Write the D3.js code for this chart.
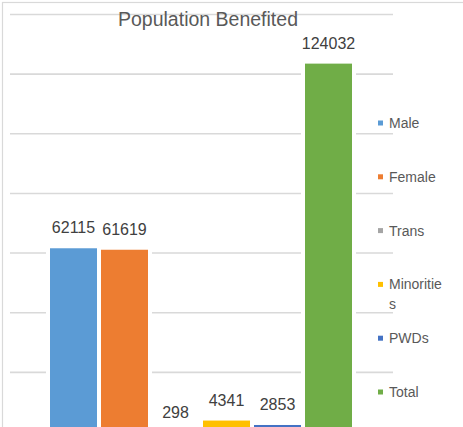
<!DOCTYPE html>
<html>
<head>
<meta charset="utf-8">
<script src="https://cdn.jsdelivr.net/npm/d3@7"></script>
<style>
  html, body { margin: 0; padding: 0; background: #fff; }
  svg { display: block; font-family: "Liberation Sans", Arial, sans-serif; }
</style>
</head>
<body>
<svg id="chart" width="463" height="427"></svg>
<script>
const title = "Population Benefited";
const categories = ["Male", "Female", "Trans", "Minorities", "PWDs", "Total"];
const values = [62115, 61619, 298, 4341, 2853, 124032];
const colors = ["#5B9BD5", "#ED7D31", "#A5A5A5", "#FFC000", "#4472C4", "#70AD47"];
const gridTicks = [0, 20000, 40000, 60000, 80000, 100000, 120000, 140000];

const svg = d3.select("#chart");

// outer chart border (only top/left visible)
svg.append("rect")
  .attr("x", 2.5).attr("y", 2.5)
  .attr("width", 500).attr("height", 500)
  .attr("fill", "none").attr("stroke", "#d9d9d9").attr("stroke-width", 1.2);

const y = d3.scaleLinear().domain([0, 140000]).range([431.5, 14]);
const x = d3.scaleBand().domain(categories).range([48, 354]).padding(0);

// gridlines
const grid = svg.append("g").attr("transform", "translate(393,0)")
  .call(d3.axisLeft(y).tickValues(gridTicks).tickSize(383).tickFormat(""));
grid.select(".domain").remove();
grid.selectAll(".tick line").attr("stroke", "#d9d9d9").attr("stroke-width", 1.6);

// bars
svg.append("g").selectAll("rect")
  .data(values)
  .join("rect")
  .attr("x", (d, i) => x(categories[i]))
  .attr("width", x.bandwidth())
  .attr("y", d => y(d))
  .attr("height", d => y(0) - y(d))
  .attr("fill", (d, i) => colors[i])
  .attr("stroke", "#fff")
  .attr("stroke-width", 4);

// data labels
svg.append("g").selectAll("text")
  .data(values)
  .join("text")
  .attr("x", (d, i) => x(categories[i]) + x.bandwidth() / 2)
  .attr("y", d => y(d) - 13)
  .attr("text-anchor", "middle")
  .attr("font-size", 16)
  .attr("fill", "#404040")
  .text(d => d);

// title
svg.append("text")
  .attr("x", 208).attr("y", 26)
  .attr("text-anchor", "middle")
  .attr("font-size", 19.5)
  .attr("fill", "#595959")
  .text(title);

// legend
const legY = d3.scalePoint().domain(categories).range([123, 392]);
const leg = svg.append("g").selectAll("g")
  .data(categories)
  .join("g")
  .attr("transform", d => `translate(0,${legY(d)})`);
leg.append("rect")
  .attr("x", 378).attr("y", -2.5)
  .attr("width", 5).attr("height", 5)
  .attr("fill", (d, i) => colors[i]);
leg.append("text")
  .attr("x", 389).attr("y", 5)
  .attr("font-size", 14)
  .attr("fill", "#595959")
  .each(function(d) {
    const t = d3.select(this);
    const maxW = 58;
    let line = "";
    let lines = [];
    for (const ch of d) {
      t.text(line + ch);
      if (this.getComputedTextLength() > maxW && line.length) {
        lines.push(line);
        line = ch;
      } else {
        line += ch;
      }
    }
    lines.push(line);
    t.text(null);
    lines.forEach((l, k) => {
      t.append("tspan").attr("x", 389).attr("dy", k === 0 ? 0 : 20).text(l);
    });
  });
</script>
</body>
</html>
